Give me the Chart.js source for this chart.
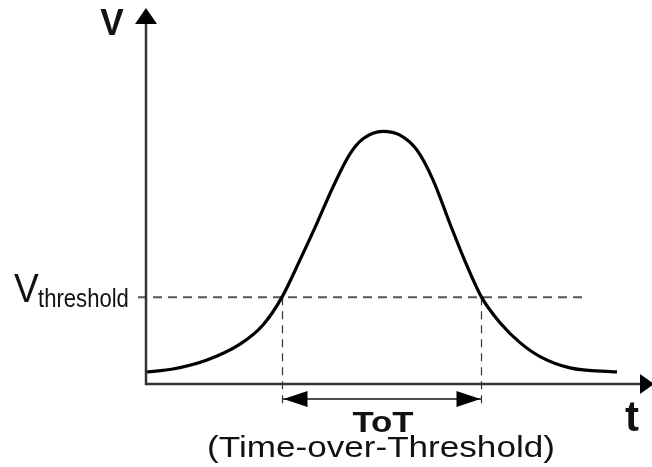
<!DOCTYPE html>
<html>
<head>
<meta charset="utf-8">
<script src="https://cdn.jsdelivr.net/npm/chart.js@4"></script>
<style>
  html, body { margin: 0; padding: 0; background: #fff; }
  #wrap { width: 652px; height: 467px; }
</style>
</head>
<body>
<div id="wrap"><canvas id="totChart" width="652" height="467"></canvas></div>
<script>
// pulse (t and V in arbitrary units, 0..100)
const timeValues    = [0.2, 5.4, 12.2, 18.8, 23.4, 27.2, 30.8, 34.2, 37.4, 40.8, 43.4, 47.4, 50.8, 54.2, 57.4, 60.8, 64.2, 67.1, 70.8, 74.8, 78.8, 84.8, 94.2];
const voltageValues = [3.2, 4.0, 6.4, 10.6, 15.7, 23.1, 33.0, 42.8, 52.4, 61.2, 65.2, 67.2, 66.2, 62.2, 54.3, 42.6, 31.4, 23.1, 16.3, 11.0, 7.3, 4.3, 3.2];
const threshold = 23.1;
const totStart = 27.3;
const totEnd = 67.1;
const thresholdRange = [-1.6, 87.8];
const totArrowLevel = -4.0;
const dropLevel = -5.6;

const FONT = '"Liberation Sans", Arial, sans-serif';

function scaledText(ctx, text, x, y, font, sx, align) {
    ctx.save();
    ctx.font = font;
    const w = ctx.measureText(text).width * sx;
    let left = x;
    if (align === 'center') left = x - w / 2;
    ctx.translate(left, y);
    ctx.scale(sx, 1);
    ctx.textAlign = 'left';
    ctx.textBaseline = 'alphabetic';
    ctx.fillText(text, 0, 0);
    ctx.restore();
}

const decorPlugin = {
    id: 'decor',
    afterDatasetsDraw(chart) {
        const ctx = chart.ctx;
        const xs = chart.scales.x;
        const ys = chart.scales.y;
        const x0 = xs.getPixelForValue(0);
        const y0 = ys.getPixelForValue(0);

        ctx.save();
        ctx.strokeStyle = '#333';
        ctx.fillStyle = '#000';
        ctx.lineWidth = 2.5;

        // y axis with arrow
        ctx.beginPath();
        ctx.moveTo(x0, y0 + 1);
        ctx.lineTo(x0, 20);
        ctx.stroke();
        ctx.beginPath();
        ctx.moveTo(x0, 8);
        ctx.lineTo(x0 - 11, 24);
        ctx.lineTo(x0 + 11, 24);
        ctx.closePath();
        ctx.fill();

        // x axis with arrow
        ctx.beginPath();
        ctx.moveTo(x0 - 1, y0);
        ctx.lineTo(644, y0);
        ctx.stroke();
        ctx.beginPath();
        ctx.moveTo(654, y0);
        ctx.lineTo(640, y0 - 10);
        ctx.lineTo(640, y0 + 10);
        ctx.closePath();
        ctx.fill();

        // ToT arrowheads
        const ay = ys.getPixelForValue(totArrowLevel);
        const a1 = xs.getPixelForValue(totStart);
        const a2 = xs.getPixelForValue(totEnd);
        ctx.beginPath();
        ctx.moveTo(a1 + 1, ay);
        ctx.lineTo(a1 + 25, ay - 8);
        ctx.lineTo(a1 + 25, ay + 8);
        ctx.closePath();
        ctx.fill();
        ctx.beginPath();
        ctx.moveTo(a2 - 1, ay);
        ctx.lineTo(a2 - 25, ay - 8);
        ctx.lineTo(a2 - 25, ay + 8);
        ctx.closePath();
        ctx.fill();

        // labels
        ctx.fillStyle = '#111';
        scaledText(ctx, 'V', 112, 35, 'bold 37px ' + FONT, 0.95, 'center');
        scaledText(ctx, 't', 632, 431, 'bold 42px ' + FONT, 1.0, 'center');
        const cx = (a1 + a2) / 2;
        scaledText(ctx, 'ToT', cx + 1, 432, 'bold 30px ' + FONT, 1.16, 'center');
        scaledText(ctx, '(Time-over-Threshold)', 381, 457, '30px ' + FONT, 1.17, 'center');

        const ty = ys.getPixelForValue(threshold);
        scaledText(ctx, 'V', 14, ty + 5, '40px ' + FONT, 0.93, 'left');
        scaledText(ctx, 'threshold', 38, ty + 10, '26px ' + FONT, 0.85, 'left');
        ctx.restore();
    }
};

new Chart(document.getElementById('totChart'), {
    type: 'line',
    data: {
        datasets: [
            {
                label: 'pulse',
                data: timeValues.map((t, i) => ({ x: t, y: voltageValues[i] })),
                borderColor: '#000',
                borderWidth: 3.2,
                pointRadius: 0,
                cubicInterpolationMode: 'monotone',
                fill: false
            },
            {
                label: 'threshold',
                data: thresholdRange.map(t => ({ x: t, y: threshold })),
                borderColor: '#555',
                borderWidth: 2,
                borderDash: [9, 6],
                pointRadius: 0,
                clip: false
            },
            {
                label: 'start',
                data: [{ x: totStart, y: threshold }, { x: totStart, y: dropLevel }],
                borderColor: '#333',
                borderWidth: 1.2,
                borderDash: [8, 6],
                pointRadius: 0,
                clip: false
            },
            {
                label: 'end',
                data: [{ x: totEnd, y: threshold }, { x: totEnd, y: dropLevel }],
                borderColor: '#333',
                borderWidth: 1.2,
                borderDash: [8, 6],
                pointRadius: 0,
                clip: false
            },
            {
                label: 'tot',
                data: [{ x: totStart, y: totArrowLevel }, { x: totEnd, y: totArrowLevel }],
                borderColor: '#111',
                borderWidth: 1.5,
                pointRadius: 0,
                clip: false
            }
        ]
    },
    options: {
        responsive: false,
        animation: false,
        layout: { padding: { left: 146, right: 6, top: 8, bottom: 83 } },
        scales: {
            x: { type: 'linear', min: 0, max: 100, display: false },
            y: { type: 'linear', min: 0, max: 100, display: false }
        },
        plugins: {
            legend: { display: false },
            tooltip: { enabled: false }
        }
    },
    plugins: [decorPlugin]
});
</script>
</body>
</html>
